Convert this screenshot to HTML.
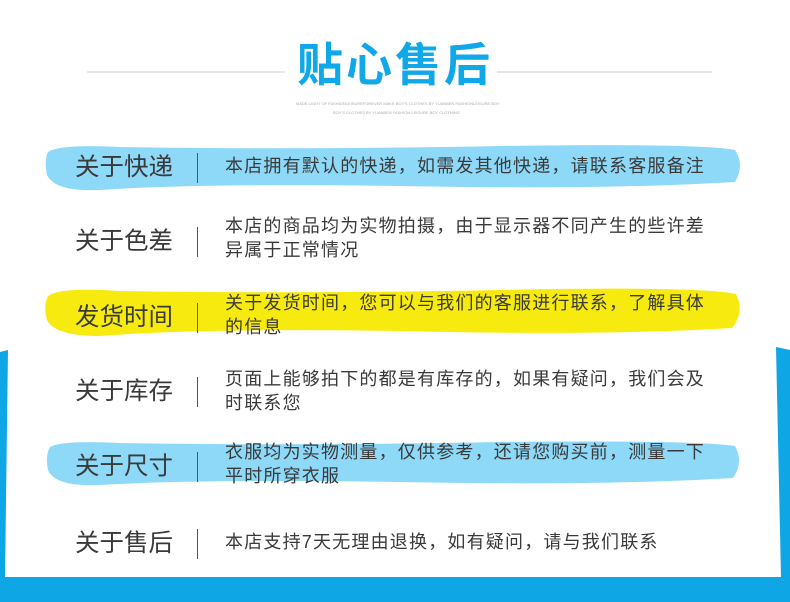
<!DOCTYPE html>
<html><head><meta charset="utf-8"><style>
body{margin:0;width:790px;height:602px;overflow:hidden;background:#fff;position:relative;font-family:"Liberation Sans","Noto Sans CJK SC",sans-serif}
.a{position:absolute}
.lab{position:absolute;left:75px;font-size:24.5px;color:#3a3a3a;line-height:30px;white-space:nowrap;margin-top:2px}
.div{position:absolute;left:197px;width:1px;height:30px;background:#555;margin-top:2px}
.txt{position:absolute;left:225px;font-size:18px;letter-spacing:1.2px;color:#3a3a3a;line-height:24px;white-space:nowrap}
</style></head><body>
<svg class="a" style="left:0;top:0" width="790" height="602">
<path d="M8,350 L0,352 L0,602 L790,602 L790,350 L776,347 L781,577 L5,577 Z" fill="#0fa6e6"/>
<path d="M48,152 Q60,144 120,147 Q300,150 500,146 Q700,143 735,150 Q745,165 735,182 Q600,190 400,186 Q200,183 100,190 Q55,192 47,175 Q44,160 48,152Z" fill="#8ed8f8"/>
<path d="M48,296 Q60,287 120,291 Q300,294 500,290 Q700,286 736,294 Q745,312 732,328 Q600,336 400,331 Q200,328 100,336 Q55,336 47,320 Q43,305 48,296Z" fill="#f7ea0e"/>
<path d="M50,447 Q62,440 120,443 Q300,446 500,442 Q700,440 735,446 Q744,462 733,478 Q600,486 400,482 Q200,479 100,485 Q55,487 48,470 Q45,455 50,447Z" fill="#8ed8f8"/>
<line x1="87" y1="72" x2="285" y2="72" stroke="#ccc"/>
<line x1="497" y1="72" x2="712" y2="72" stroke="#ccc"/>
</svg>
<div class="a" style="left:297px;top:38px;font-size:46px;font-weight:bold;color:#10a8e8;letter-spacing:3px;line-height:55px">贴心售后</div>
<div class="a" style="left:296px;top:101px;font-size:4px;color:#aaa;white-space:nowrap">MADE LIGHT OF FASHIONLEISUREFOREVER MAKE BOY'S CLOTHES BY YUANBEN FASHIONLEISURE BOY</div>
<div class="a" style="left:333px;top:110px;font-size:4px;color:#aaa;white-space:nowrap">BOY'S CLOTHES BY YUANBEN FASHION LEISURE BOY CLOTHING</div>

<div class="lab" style="top:151px">关于快递</div><div class="div" style="top:151px"></div>
<div class="txt" style="top:154px">本店拥有默认的快递，如需发其他快递，请联系客服备注</div>

<div class="lab" style="top:225px">关于色差</div><div class="div" style="top:225px"></div>
<div class="txt" style="top:214px">本店的商品均为实物拍摄，由于显示器不同产生的些许差<br>异属于正常情况</div>

<div class="lab" style="top:301px">发货时间</div><div class="div" style="top:301px"></div>
<div class="txt" style="top:291px">关于发货时间，您可以与我们的客服进行联系，了解具体<br>的信息</div>

<div class="lab" style="top:375px">关于库存</div><div class="div" style="top:375px"></div>
<div class="txt" style="top:367px">页面上能够拍下的都是有库存的，如果有疑问，我们会及<br>时联系您</div>

<div class="lab" style="top:450px">关于尺寸</div><div class="div" style="top:450px"></div>
<div class="txt" style="top:440px">衣服均为实物测量，仅供参考，还请您购买前，测量一下<br>平时所穿衣服</div>

<div class="lab" style="top:527px">关于售后</div><div class="div" style="top:527px"></div>
<div class="txt" style="top:530px">本店支持7天无理由退换，如有疑问，请与我们联系</div>
</body></html>
